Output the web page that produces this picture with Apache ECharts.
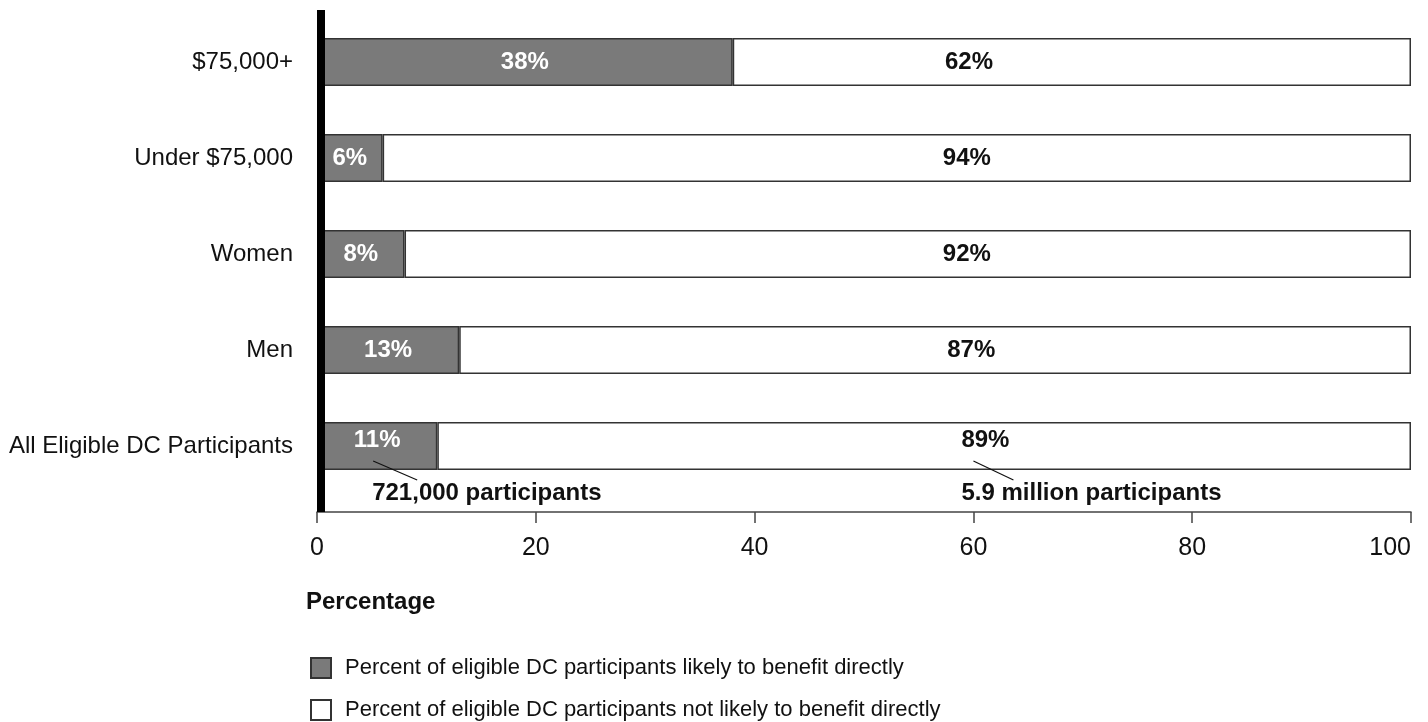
<!DOCTYPE html>
<html>
<head>
<meta charset="utf-8">
<script src="https://cdn.jsdelivr.net/npm/echarts@6/dist/echarts.min.js"></script>
<style>
html,body{margin:0;padding:0;background:#fff;}
#main{width:1428px;height:722px;}
</style>
</head>
<body>
<div id="main"></div>
<script>
// ---- data ----
const categories = ['$75,000+', 'Under $75,000', 'Women', 'Men', 'All Eligible DC Participants'];
const likely = [38, 6, 8, 13, 11];
const notLikely = [62, 94, 92, 87, 89];
const seriesNames = [
  'Percent of eligible DC participants likely to benefit directly',
  'Percent of eligible DC participants not likely to benefit directly'
];
const noteLikely = '721,000 participants';
const noteNotLikely = '5.9 million participants';
const axisTitle = 'Percentage';

// ---- config ----
const FONT = '"Liberation Sans", Arial, Helvetica, sans-serif';
const whiteLabelAt = [59.6, 59.4, 59.4, 59.8, 61.1]; // x value where white-segment labels sit
const chart = echarts.init(document.getElementById('main'));

function legendFor(name, top) {
  return {
    orient: 'vertical', left: 310, top: top, itemWidth: 20, itemHeight: 20,
    icon: 'rect', padding: 0,
    textStyle: {color: '#111', fontSize: 22, fontFamily: FONT, padding: [0, 0, 0, 9]},
    data: [name]
  };
}

function baseOption(whiteLabelPos, graphics) {
  return {
    animation: false,
    backgroundColor: '#fff',
    grid: {left: 317, right: 17, top: 14, bottom: 228, containLabel: false},
    xAxis: {
      type: 'value', min: 0, max: 100, interval: 20, offset: 18,
      axisLine: {show: true, lineStyle: {color: '#444', width: 1.5}},
      axisTick: {show: true, length: 11, lineStyle: {color: '#444', width: 1.5}},
      axisLabel: {color: '#111', fontSize: 25, fontFamily: FONT, margin: 24, alignMaxLabel: 'right'},
      splitLine: {show: false}
    },
    yAxis: {
      type: 'category', data: categories, inverse: true,
      axisLine: {show: false}, axisTick: {show: false},
      axisLabel: {color: '#111', fontSize: 24, fontFamily: FONT, margin: 24}
    },
    legend: [legendFor(seriesNames[0], 657), legendFor(seriesNames[1], 699)],
    series: [
      {
        name: seriesNames[0], type: 'bar', stack: 'all', barWidth: '50%',
        itemStyle: {color: '#7a7a7a', borderColor: '#333', borderWidth: 1.5},
        label: {show: true, position: 'inside', color: '#fff', fontWeight: 'bold', fontSize: 24, fontFamily: FONT,
          formatter: p => p.value + '%'},
        data: likely.map((v, i) => i === categories.length - 1
          ? {value: v, label: {offset: [0, -6]}} : v)
      },
      {
        name: seriesNames[1], type: 'bar', stack: 'all', barWidth: '50%',
        itemStyle: {color: '#fff', borderColor: '#333', borderWidth: 1.5},
        label: {show: true, color: '#111', fontWeight: 'bold', fontSize: 24, fontFamily: FONT,
          align: 'center', verticalAlign: 'middle',
          formatter: p => p.value + '%'},
        data: notLikely.map((v, i) => whiteLabelPos
          ? {value: v, label: {position: whiteLabelPos[i]}} : v)
      }
    ],
    graphic: graphics || []
  };
}

chart.setOption(baseOption(null, []));

// compute label positions & annotations from the axes
const px = v => chart.convertToPixel({gridIndex: 0}, [v, 0])[0];
const py = i => chart.convertToPixel({gridIndex: 0}, [0, i])[1];
const bandH = Math.abs(py(1) - py(0));
const barH = bandH * 0.5;
const last = categories.length - 1;

const whitePos = notLikely.map((v, i) => {
  const dx = px(whiteLabelAt[i]) - px(likely[i]);
  const dy = barH / 2 + (i === last ? -6 : 0);
  return [dx, dy];
});

const x0 = px(0);
const yTop = py(0) - bandH / 2 - 4;
const yAxisLine = py(last) + bandH / 2 + 18;
const barBottom = py(last) + barH / 2;
const lx1 = px(likely[last] / 2) - 4;
const lx2 = px(whiteLabelAt[last]) - 12;

const graphics = [
  {type: 'rect', z: 100, shape: {x: x0, y: yTop, width: 8, height: yAxisLine - yTop},
   style: {fill: '#000'}},
  {type: 'line', z: 100, shape: {x1: lx1, y1: barBottom - 9, x2: lx1 + 44, y2: barBottom + 10},
   style: {stroke: '#111', lineWidth: 1.2}},
  {type: 'text', z: 100, style: {text: noteLikely, x: lx1 - 1, y: barBottom + 23,
   font: 'bold 24px ' + FONT, fill: '#111', verticalAlign: 'middle', textVerticalAlign: 'middle'}},
  {type: 'line', z: 100, shape: {x1: lx2, y1: barBottom - 9, x2: lx2 + 40, y2: barBottom + 10},
   style: {stroke: '#111', lineWidth: 1.2}},
  {type: 'text', z: 100, style: {text: noteNotLikely, x: lx2 - 12, y: barBottom + 23,
   font: 'bold 24px ' + FONT, fill: '#111', verticalAlign: 'middle', textVerticalAlign: 'middle'}},
  {type: 'text', z: 100, style: {text: axisTitle, x: x0 - 11, y: 602,
   font: 'bold 24px ' + FONT, fill: '#111', verticalAlign: 'middle', textVerticalAlign: 'middle'}}
];

chart.setOption(baseOption(whitePos, graphics), true);
</script>
</body>
</html>
